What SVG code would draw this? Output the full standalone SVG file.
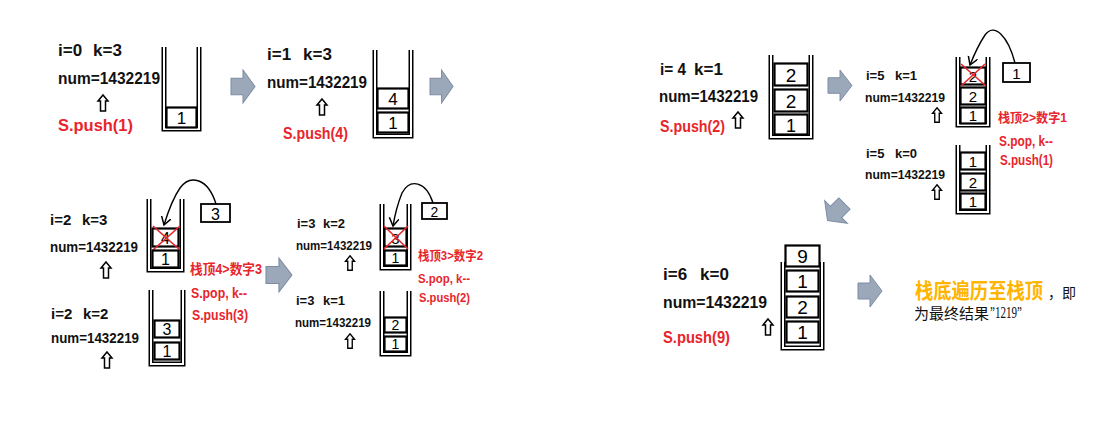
<svg xmlns="http://www.w3.org/2000/svg" width="1104" height="435" viewBox="0 0 1104 435">
<style>
.t{font-family:"Liberation Sans","Noto Sans CJK SC",sans-serif;fill:#111;font-weight:bold}
.r{fill:#E8252C;font-weight:bold}
.d{font-family:"Liberation Sans",sans-serif;text-anchor:middle;fill:#000}
.wo{fill:none;stroke:#000;stroke-width:5;stroke-linejoin:miter}
.wi{fill:none;stroke:#fff;stroke-width:2;stroke-linejoin:miter}
.bo{fill:#fff;stroke:#000;stroke-width:2.2}
.bx{fill:#fff;stroke:#000;stroke-width:1.8}
.ga{fill:#9AA8BA;stroke:#7D8CA3;stroke-width:1}
.x{stroke:#E8252C;stroke-width:1.6}
.cur{fill:none;stroke:#000;stroke-width:1.4;marker-end:url(#ah)}
.ua{fill:#fff;stroke:#000;stroke-width:1.5}
</style>
<defs>
<marker id="ah" markerUnits="userSpaceOnUse" markerWidth="12" markerHeight="12" refX="8" refY="5" orient="auto">
<path d="M0,0 L8,5 L0,10" fill="none" stroke="#000" stroke-width="1.5"/>
</marker>
<path id="garrow" class="ga" d="M0,8 H12 V0 L24,16 L12,32 V24 H0 Z"/>
<path id="uarr" class="ua" d="M0,-8 L5,-2 H2.5 V8 H-2.5 V-2 H-5 Z"/>
</defs>

<g id="connectors">
<use href="#garrow" transform="translate(231,70) scale(1,1.03)"/>
<use href="#garrow" transform="translate(430,70) scale(0.96,1.03)"/>
<use href="#garrow" transform="translate(266,258) scale(1.08,1.06)"/>
<use href="#garrow" transform="translate(828,70) scale(1,0.97)"/>
<use href="#garrow" transform="translate(836,212) rotate(135) translate(-12,-16)"/>
<use href="#garrow" transform="translate(858,275)"/>
<path class="cur" d="M216,204 C208,178 190,174 180,188 C173,198 168,212 164,225"/>
<path class="cur" d="M433,203 C426,181 410,178 402,193 C398,203 395,214 393,226"/>
<path class="cur" d="M1015,63 C1008,36 994,22 985,35 C979,44 974,55 970,65"/>
</g>

<g id="step-i0">
<text class="t" x="58" y="56" font-size="17">i=0</text>
<text class="t" x="93" y="56" font-size="17">k=3</text>
<text class="t" x="58" y="84" font-size="17" textLength="102" lengthAdjust="spacingAndGlyphs">num=1432219</text>
<use href="#uarr" transform="translate(103,103)"/>
<text class="t r" x="58" y="131" font-size="17" textLength="75" lengthAdjust="spacingAndGlyphs">S.push(1)</text>
<path class="wo" d="M164,47 V129 H199 V47"/><path class="wi" d="M164,47 V129 H199 V47"/>
<rect class="bo" x="166.5" y="107.5" width="30" height="20"/>
<text class="d" x="181.5" y="124" font-size="17">1</text>
</g>

<g id="step-i1">
<text class="t" x="267" y="60" font-size="17">i=1</text>
<text class="t" x="303" y="60" font-size="17">k=3</text>
<text class="t" x="267" y="88" font-size="17" textLength="100" lengthAdjust="spacingAndGlyphs">num=1432219</text>
<use href="#uarr" transform="translate(322,107)"/>
<text class="t r" x="283" y="139" font-size="17" textLength="65" lengthAdjust="spacingAndGlyphs">S.push(4)</text>
<path class="wo" d="M375,50 V136 H411 V50"/><path class="wi" d="M375,50 V136 H411 V50"/>
<rect class="bo" x="377.5" y="88.5" width="31" height="20"/>
<text class="d" x="393" y="105" font-size="17">4</text>
<rect class="bo" x="377.5" y="112.5" width="31" height="20"/>
<text class="d" x="393" y="129" font-size="17">1</text>
</g>

<g id="step-i2-k3">
<text class="t" x="50" y="225" font-size="15">i=2</text>
<text class="t" x="82" y="225" font-size="15">k=3</text>
<text class="t" x="50" y="252" font-size="15" textLength="88" lengthAdjust="spacingAndGlyphs">num=1432219</text>
<use href="#uarr" transform="translate(106,270)"/>
<path class="wo" d="M149,199 V270 H182 V199"/><path class="wi" d="M149,199 V270 H182 V199"/>
<rect class="bo" x="152.5" y="228.5" width="26" height="18"/>
<text class="d" x="165.5" y="243.5" font-size="16">4</text>
<line class="x" x1="153" y1="226" x2="180" y2="250"/><line class="x" x1="180" y1="226" x2="153" y2="250"/>
<rect class="bo" x="152.5" y="250.5" width="26" height="17"/>
<text class="d" x="165.5" y="265" font-size="16">1</text>
<rect class="bx" x="201" y="204" width="29" height="18"/>
<text class="d" x="215.5" y="219.5" font-size="16">3</text>
<text class="t r" x="190" y="274" font-size="14" textLength="72" lengthAdjust="spacingAndGlyphs">栈顶4&gt;数字3</text>
<text class="t r" x="191" y="298" font-size="15" textLength="56" lengthAdjust="spacingAndGlyphs">S.pop, k--</text>
<text class="t r" x="192" y="320" font-size="15" textLength="56" lengthAdjust="spacingAndGlyphs">S.push(3)</text>
</g>

<g id="step-i2-k2">
<text class="t" x="51" y="319" font-size="15">i=2</text>
<text class="t" x="83" y="319" font-size="15">k=2</text>
<text class="t" x="51" y="343" font-size="15" textLength="88" lengthAdjust="spacingAndGlyphs">num=1432219</text>
<use href="#uarr" transform="translate(107,360)"/>
<path class="wo" d="M151,290 V364 H183 V290"/><path class="wi" d="M151,290 V364 H183 V290"/>
<rect class="bo" x="154.5" y="320.5" width="25" height="17"/>
<text class="d" x="167" y="335" font-size="16">3</text>
<rect class="bo" x="154.5" y="342.5" width="25" height="17"/>
<text class="d" x="167" y="357" font-size="16">1</text>
</g>

<g id="step-i3-k2">
<text class="t" x="297" y="228" font-size="13">i=3</text>
<text class="t" x="323" y="228" font-size="13">k=2</text>
<text class="t" x="296" y="250" font-size="13" textLength="76" lengthAdjust="spacingAndGlyphs">num=1432219</text>
<use href="#uarr" transform="translate(350,263) scale(0.9)"/>
<path class="wo" d="M382,204 V268 H409 V204"/><path class="wi" d="M382,204 V268 H409 V204"/>
<rect class="bo" x="384.5" y="228.5" width="22" height="18"/>
<text class="d" x="395.5" y="243.5" font-size="15">3</text>
<line class="x" x1="384" y1="226" x2="408" y2="249"/><line class="x" x1="408" y1="226" x2="384" y2="249"/>
<rect class="bo" x="384.5" y="250.5" width="22" height="15"/>
<text class="d" x="395.5" y="263" font-size="14">1</text>
<rect class="bx" x="422" y="203" width="25" height="16"/>
<text class="d" x="434.5" y="216.5" font-size="14">2</text>
<text class="t r" x="418" y="260" font-size="13" textLength="65" lengthAdjust="spacingAndGlyphs">栈顶3&gt;数字2</text>
<text class="t r" x="418" y="283" font-size="13" textLength="52" lengthAdjust="spacingAndGlyphs">S.pop, k--</text>
<text class="t r" x="419" y="302" font-size="13" textLength="51" lengthAdjust="spacingAndGlyphs">S.push(2)</text>
</g>

<g id="step-i3-k1">
<text class="t" x="296" y="305" font-size="13">i=3</text>
<text class="t" x="323" y="305" font-size="13">k=1</text>
<text class="t" x="295" y="327" font-size="13" textLength="76" lengthAdjust="spacingAndGlyphs">num=1432219</text>
<use href="#uarr" transform="translate(350,341) scale(0.9)"/>
<path class="wo" d="M382,291 V354 H409 V291"/><path class="wi" d="M382,291 V354 H409 V291"/>
<rect class="bo" x="384.5" y="317.5" width="22" height="15"/>
<text class="d" x="395.5" y="330" font-size="14">2</text>
<rect class="bo" x="384.5" y="336.5" width="22" height="15"/>
<text class="d" x="395.5" y="349" font-size="14">1</text>
</g>

<g id="step-i4">
<text class="t" x="660" y="75" font-size="17" textLength="26" lengthAdjust="spacingAndGlyphs">i= 4</text>
<text class="t" x="694" y="75" font-size="17">k=1</text>
<text class="t" x="659" y="102" font-size="17" textLength="99" lengthAdjust="spacingAndGlyphs">num=1432219</text>
<use href="#uarr" transform="translate(738,120)"/>
<text class="t r" x="660" y="132" font-size="17" textLength="65" lengthAdjust="spacingAndGlyphs">S.push(2)</text>
<path class="wo" d="M771,55 V137 H811 V55"/><path class="wi" d="M771,55 V137 H811 V55"/>
<rect class="bo" x="774.5" y="63.5" width="33" height="22"/>
<text class="d" x="791" y="81.5" font-size="19">2</text>
<rect class="bo" x="774.5" y="89.5" width="33" height="22"/>
<text class="d" x="791" y="107.5" font-size="19">2</text>
<rect class="bo" x="774.5" y="114.5" width="33" height="20"/>
<text class="d" x="791" y="131.5" font-size="18">1</text>
</g>

<g id="step-i5-k1">
<text class="t" x="866" y="80" font-size="13">i=5</text>
<text class="t" x="895" y="80" font-size="13">k=1</text>
<text class="t" x="865" y="102" font-size="13" textLength="80" lengthAdjust="spacingAndGlyphs">num=1432219</text>
<use href="#uarr" transform="translate(937,115) scale(0.9)"/>
<path class="wo" d="M958,57 V125 H988 V57"/><path class="wi" d="M958,57 V125 H988 V57"/>
<rect class="bo" x="960.5" y="67.5" width="25" height="17"/>
<text class="d" x="973" y="82" font-size="15">2</text>
<line class="x" x1="961" y1="64" x2="986" y2="86"/><line class="x" x1="985" y1="64" x2="961" y2="86"/>
<rect class="bo" x="960.5" y="87.5" width="25" height="17"/>
<text class="d" x="973" y="102" font-size="15">2</text>
<rect class="bo" x="960.5" y="107.5" width="25" height="16"/>
<text class="d" x="973" y="121" font-size="15">1</text>
<rect class="bx" x="1003" y="63" width="27" height="19"/>
<text class="d" x="1016.5" y="78.5" font-size="15">1</text>
<text class="t r" x="998" y="122" font-size="13" textLength="69" lengthAdjust="spacingAndGlyphs">栈顶2&gt;数字1</text>
<text class="t r" x="999" y="146" font-size="14" textLength="54" lengthAdjust="spacingAndGlyphs">S.pop, k--</text>
<text class="t r" x="1000" y="165" font-size="14" textLength="53" lengthAdjust="spacingAndGlyphs">S.push(1)</text>
</g>

<g id="step-i5-k0">
<text class="t" x="866" y="158" font-size="13">i=5</text>
<text class="t" x="895" y="158" font-size="13">k=0</text>
<text class="t" x="865" y="179" font-size="13" textLength="80" lengthAdjust="spacingAndGlyphs">num=1432219</text>
<use href="#uarr" transform="translate(937,192) scale(0.9)"/>
<path class="wo" d="M958,145 V212 H988 V145"/><path class="wi" d="M958,145 V212 H988 V145"/>
<rect class="bo" x="960.5" y="152.5" width="25" height="17"/>
<text class="d" x="973" y="167" font-size="15">1</text>
<rect class="bo" x="960.5" y="173.5" width="25" height="17"/>
<text class="d" x="973" y="188" font-size="15">2</text>
<rect class="bo" x="960.5" y="193.5" width="25" height="16"/>
<text class="d" x="973" y="207" font-size="15">1</text>
</g>

<g id="step-i6">
<text class="t" x="663" y="280" font-size="17">i=6</text>
<text class="t" x="700" y="280" font-size="17">k=0</text>
<text class="t" x="663" y="308" font-size="17" textLength="104" lengthAdjust="spacingAndGlyphs">num=1432219</text>
<use href="#uarr" transform="translate(768,327)"/>
<text class="t r" x="663" y="343" font-size="17" textLength="67" lengthAdjust="spacingAndGlyphs">S.push(9)</text>
<path class="wo" d="M783,262 V348 H822 V262"/><path class="wi" d="M783,262 V348 H822 V262"/>
<rect class="bo" x="785.5" y="245.5" width="34" height="21"/>
<text class="d" x="802.5" y="263" font-size="19">9</text>
<rect class="bo" x="786.5" y="270.5" width="32" height="21"/>
<text class="d" x="802.5" y="288" font-size="19">1</text>
<rect class="bo" x="786.5" y="296.5" width="32" height="21"/>
<text class="d" x="802.5" y="314" font-size="19">2</text>
<rect class="bo" x="786.5" y="321.5" width="32" height="21"/>
<text class="d" x="802.5" y="339" font-size="19">1</text>
</g>

<g id="result">
<text x="915" y="298" font-size="21" font-family="'Noto Sans CJK SC',sans-serif"><tspan fill="#FFB400" font-weight="bold" textLength="128" lengthAdjust="spacingAndGlyphs">栈底遍历至栈顶</tspan><tspan x="1048" font-size="14" fill="#111">，即</tspan></text>
<text x="914" y="319" font-size="15" fill="#111" font-family="'Noto Sans CJK SC',sans-serif" textLength="75" lengthAdjust="spacingAndGlyphs">为最终结果</text>
<text x="990" y="318" font-size="16" fill="#111" font-family="'Liberation Serif',serif" textLength="32" lengthAdjust="spacingAndGlyphs">”1219”</text>
</g>
</svg>
